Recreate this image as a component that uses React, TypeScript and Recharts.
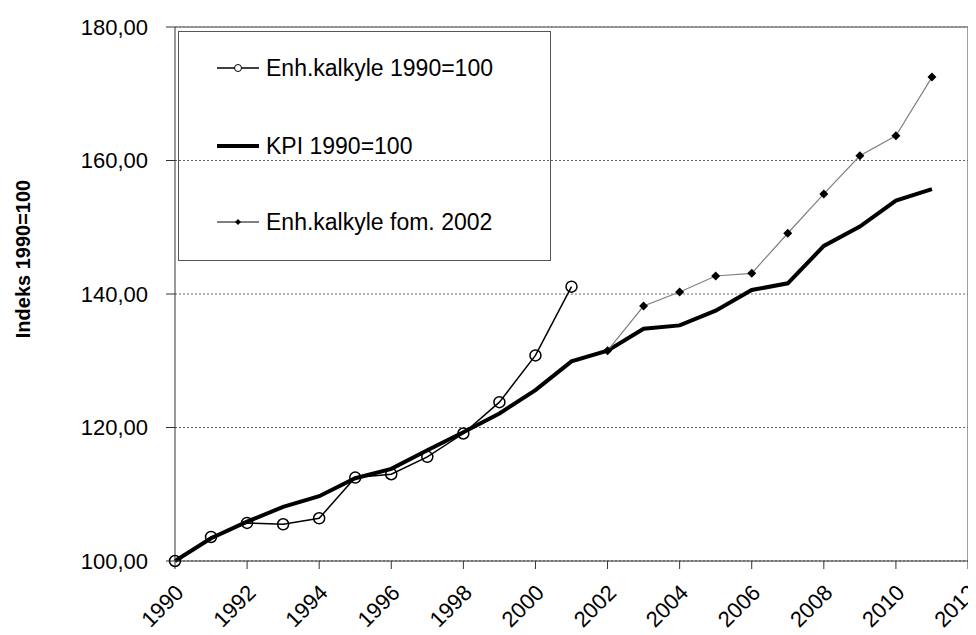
import { LineChart, Line, XAxis, YAxis, CartesianGrid, ReferenceLine, Legend } from 'recharts';

const years = [1990, 1991, 1992, 1993, 1994, 1995, 1996, 1997, 1998, 1999, 2000, 2001, 2002, 2003, 2004, 2005, 2006, 2007, 2008, 2009, 2010, 2011];
const enhKalkyle1990 = [100, 103.6, 105.7, 105.5, 106.4, 112.5, 113.0, 115.6, 119.1, 123.8, 130.8, 141.1];
const kpi1990 = [100, 103.4, 105.9, 108.1, 109.7, 112.4, 113.8, 116.6, 119.3, 122.1, 125.6, 129.9, 131.5, 134.8, 135.3, 137.5, 140.6, 141.6, 147.2, 150.1, 154.0, 155.7];
const enhKalkyle2002Years = [2002, 2003, 2004, 2005, 2006, 2007, 2008, 2009, 2010, 2011];
const enhKalkyle2002 = [131.5, 138.2, 140.3, 142.7, 143.1, 149.1, 155.0, 160.7, 163.7, 172.5];
const xTicks = [1990, 1992, 1994, 1996, 1998, 2000, 2002, 2004, 2006, 2008, 2010, 2012];
const yTicks = [100, 120, 140, 160, 180];

const seriesNames = ['Enh.kalkyle 1990=100', 'KPI 1990=100', 'Enh.kalkyle fom. 2002'];

const data = years.map((year, i) => {
    const j = enhKalkyle2002Years.indexOf(year);
    return {
        year,
        enh: i < enhKalkyle1990.length ? enhKalkyle1990[i] : null,
        kpi: kpi1990[i],
        enh2002: j >= 0 ? enhKalkyle2002[j] : null,
    };
});

const FONT = '"Liberation Sans", Arial, sans-serif';

const Diamond = (props: any) => {
    const { cx, cy } = props;
    if (cx == null || cy == null) return null;
    const s = 4.5;
    return <polygon points={`${cx},${cy - s} ${cx + s},${cy} ${cx},${cy + s} ${cx - s},${cy}`} fill="#000" />;
};

const XTick = (props: any) => {
    const { x, y, payload } = props;
    return (
        <g transform={`translate(${x + 10},${y + 25})`}>
            <text x={0} y={0} textAnchor="end" transform="rotate(-45)" fontSize={22} fontFamily={FONT} fill="#000">
                {payload.value}
            </text>
        </g>
    );
};

const ChartLegend = () => (
    <div style={{ position: 'relative', width: 373, height: 230, border: '1.5px solid #555', boxSizing: 'border-box', fontFamily: FONT, fontSize: 23, color: '#000' }}>
        {seriesNames.map((name, i) => (
            <div key={name} style={{ position: 'absolute', left: 38, top: [36, 114, 190][i] - 15, height: 30, display: 'flex', alignItems: 'center', whiteSpace: 'nowrap' }}>
                <svg width={44} height={30} style={{ marginRight: 5 }}>
                    {i === 0 && <>
                        <line x1={0} y1={15} x2={42} y2={15} stroke="#000" strokeWidth={1.5} />
                        <circle cx={21} cy={15} r={3.5} fill="#fff" stroke="#000" strokeWidth={1} />
                    </>}
                    {i === 1 && <line x1={0} y1={15} x2={42} y2={15} stroke="#000" strokeWidth={4} />}
                    {i === 2 && <>
                        <line x1={0} y1={15} x2={42} y2={15} stroke="#000" strokeWidth={1} />
                        <polygon points="21,12 24,15 21,18 18,15" fill="#000" />
                    </>}
                </svg>
                <span>{name}</span>
            </div>
        ))}
    </div>
);

export default function App() {
    return (
        <LineChart width={968} height={627} data={data} margin={{ top: 19, right: 8, left: 0, bottom: 0 }}>
            <CartesianGrid vertical={false} stroke="#666" strokeDasharray="2 2" />
            <XAxis
                dataKey="year"
                type="number"
                domain={[1990, 2012]}
                ticks={xTicks}
                interval={0}
                height={74}
                stroke="#333"
                tickSize={8}
                tickMargin={0}
                tick={<XTick />}
            />
            <YAxis
                domain={[100, 180]}
                ticks={yTicks}
                width={167}
                stroke="#333"
                tickSize={9}
                tickMargin={18}
                tick={{ fontSize: 22, fontFamily: FONT, fill: '#000' }}
                tickFormatter={(v: number) => v.toFixed(2).replace('.', ',')}
                label={() => (
                    <text x={15} y={251} transform="rotate(-90, 15, 251)" textAnchor="middle" dominantBaseline="central" fontSize={20} fontWeight="bold" fontFamily={FONT} fill="#000">
                        Indeks 1990=100
                    </text>
                )}
            />
            <ReferenceLine y={180} stroke="#7f7f7f" strokeWidth={1.5} />
            <ReferenceLine x={2012} stroke="#7f7f7f" strokeWidth={1.5} />
            <Legend
                layout="horizontal"
                verticalAlign="middle"
                align="center"
                content={() => <ChartLegend />}
                wrapperStyle={{ left: 170, top: 23, width: 373, height: 230 }}
            />
            <Line dataKey="kpi" name={seriesNames[1]} stroke="#000" strokeWidth={4} dot={false} isAnimationActive={false} />
            <Line dataKey="enh" name={seriesNames[0]} stroke="#000" strokeWidth={1.5} dot={{ r: 5.5, fill: 'none', stroke: '#000', strokeWidth: 1.5 }} isAnimationActive={false} />
            <Line dataKey="enh2002" name={seriesNames[2]} stroke="#808080" strokeWidth={1.2} dot={<Diamond />} isAnimationActive={false} />
        </LineChart>
    );
}
